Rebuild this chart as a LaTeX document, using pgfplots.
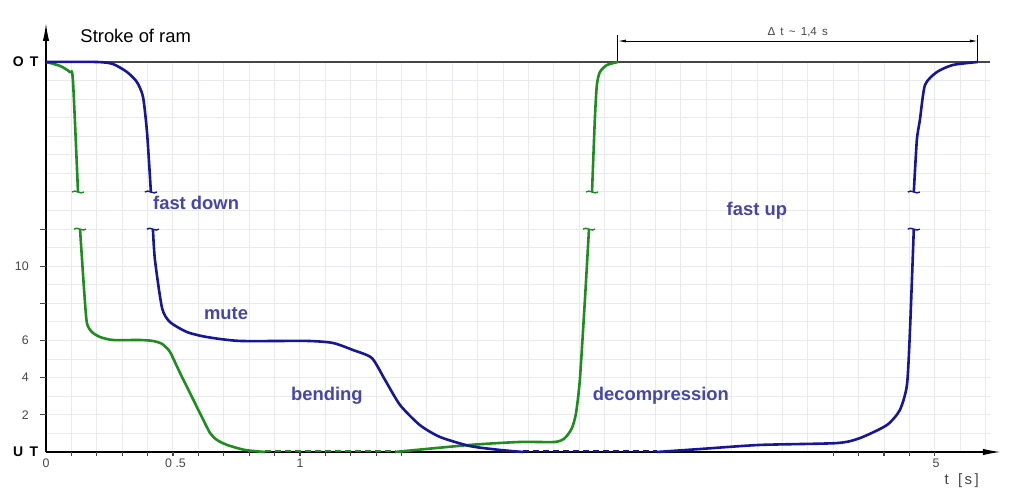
\documentclass[border=0pt]{standalone}
\usepackage{pgfplots}
\pgfplotsset{compat=1.18}
\usepackage{fontspec}
\setmainfont{Liberation Sans}
\usetikzlibrary{arrows.meta}
\definecolor{gr}{RGB}{30,140,30}
\definecolor{bl}{RGB}{22,22,150}
\definecolor{lbl}{RGB}{70,70,168}
\definecolor{gridc}{RGB}{233,233,240}
\definecolor{tk}{RGB}{70,70,70}
\newcommand{\brk}[3]{\draw[#1, line width=0.7pt] (axis cs:#2,#3) ++(-3pt,0pt) .. controls +(1.5pt,1.6pt) and +(-1.5pt,-1.6pt) .. ++(6pt,0pt);}
\newcommand{\lab}{\fontsize{9.2pt}{11pt}\selectfont\bfseries}
\newcommand{\tkf}{\fontsize{6.2pt}{7pt}\selectfont}
\begin{document}
\begin{tikzpicture}
\path[use as bounding box] (-23pt,-22.5pt) rectangle (489pt,226pt);
\begin{axis}[
  at={(0,0)}, anchor=south west,
  scale only axis, width=472pt, height=195pt,
  xmin=0, xmax=3.717, ymin=0, ymax=21,
  axis line style={draw=none},
  xtick={0,0.1,...,3.75}, ytick={0,1,...,21},
  xticklabels={}, yticklabels={},
  major tick length=0pt,
  grid=major, grid style={gridc, line width=0.5pt},
  clip=false,
]
% axes
\draw[tk, line width=0.8pt] (axis cs:0,21) -- (axis cs:3.717,21);
\draw[black, line width=0.7pt, -{Latex[length=9pt,width=3.2pt]}] (axis cs:0,0) -- (axis cs:3.76,0);
\draw[black, line width=0.7pt, -{Latex[length=9pt,width=3.2pt]}] (axis cs:0,0) -- (axis cs:0,23.1);
\pgfplotsinvokeforeach{0.1,0.2,0.3,0.4,0.5,0.6,0.7,0.8,0.9,1.0,1.1,1.2,1.3,1.4,3.1,3.2,3.3,3.4,3.5}{\draw[tk, line width=0.6pt] (axis cs:#1,0) -- ++(0,-2pt);}
\pgfplotsinvokeforeach{2,4,6,8,10,12}{\draw[tk, line width=0.6pt] (axis cs:0,#1) -- ++(-3pt,0);}
% tick labels
\node[tk, font=\tkf] at (axis cs:0,-0.6) {0};
\node[tk, font=\tkf] at (axis cs:0.51,-0.6) {0 .5};
\node[tk, font=\tkf] at (axis cs:1,-0.6) {1};
\node[tk, font=\tkf] at (axis cs:3.505,-0.6) {5};
\node[tk, font=\tkf, anchor=east] at (axis cs:-0.04,2) {2};
\node[tk, font=\tkf, anchor=east] at (axis cs:-0.04,4) {4};
\node[tk, font=\tkf, anchor=east] at (axis cs:-0.04,6) {6};
\node[tk, font=\tkf, anchor=east] at (axis cs:-0.04,10) {10};
\node[font=\fontsize{7pt}{8pt}\selectfont\bfseries] at (axis cs:-0.08,0) {U\, T};
\node[font=\fontsize{7pt}{8pt}\selectfont\bfseries] at (axis cs:-0.08,21) {O\, T};
\node[tk, font=\fontsize{7.5pt}{9pt}\selectfont] at (axis cs:3.606,-1.56) {t\,\, [\,s\,]};
\node[anchor=west, font=\fontsize{9.2pt}{11pt}\selectfont] at (axis cs:0.108,22.4) {Stroke of ram};
% delta t
\draw[black, line width=0.5pt] (axis cs:2.252,21) -- (axis cs:2.252,22.45);
\draw[black, line width=0.5pt] (axis cs:3.669,21) -- (axis cs:3.669,22.45);
\draw[black, line width=0.4pt, {Latex[length=4pt,width=1.5pt]}-{Latex[length=4pt,width=1.5pt]}] (axis cs:2.252,22.13) -- (axis cs:3.669,22.13);
\node[tk, font=\fontsize{5.8pt}{7pt}\selectfont] at (axis cs:2.96,22.62) {Δ\, t\, \textasciitilde\, 1,4\, s};
% green curve
\addplot[gr, line width=1.3pt, smooth, tension=0.4] coordinates {
(0,21) (0.055,20.79) (0.094,20.46) (0.106,20.03) (0.126,14.0)};
\addplot[gr, line width=1.3pt, smooth, tension=0.4] coordinates {
(0.134,12.0) (0.150,8.72) (0.161,6.95) (0.181,6.46) (0.213,6.19) (0.264,6.03) (0.370,6.03) (0.421,5.98) (0.457,5.82) (0.488,5.39) (0.528,4.25) (0.606,2.10) (0.646,1.02) (0.673,0.65) (0.713,0.38) (0.783,0.11) (0.862,0)};
\addplot[gr, line width=1.2pt, dash pattern=on 3pt off 2pt] coordinates {(0.862,0.05) (1.374,0.05)};
\addplot[gr, line width=1.3pt, smooth, tension=0.4] coordinates {
(1.374,0) (1.669,0.38) (1.866,0.54) (2.004,0.54) (2.043,0.75) (2.071,1.29) (2.087,2.1) (2.102,3.88) (2.122,8.19) (2.138,12.0)};
\addplot[gr, line width=1.3pt, smooth, tension=0.4] coordinates {
(2.150,14.0) (2.161,17.88) (2.169,19.76) (2.181,20.46) (2.209,20.84) (2.252,21)};
% blue curve
\addplot[bl, line width=1.3pt, smooth, tension=0.4] coordinates {
(0,21) (0.201,21) (0.264,20.89) (0.319,20.46) (0.358,19.92) (0.382,19.12) (0.398,17.18) (0.413,14.0)};
\addplot[bl, line width=1.3pt, smooth, tension=0.4] coordinates {
(0.421,12.0) (0.429,10.34) (0.457,7.75) (0.488,7.0) (0.555,6.46) (0.634,6.19) (0.764,5.98) (1.028,5.98) (1.130,5.87) (1.209,5.49) (1.283,5.06) (1.335,3.88) (1.394,2.53) (1.472,1.45) (1.551,0.81) (1.669,0.32) (1.787,0.11) (1.878,0)};
\addplot[bl, line width=1.2pt, dash pattern=on 3pt off 2pt] coordinates {(1.878,0.05) (2.406,0.05)};
\addplot[bl, line width=1.3pt, smooth, tension=0.4] coordinates {
(2.406,0) (2.575,0.16) (2.811,0.38) (3.114,0.48) (3.205,0.75) (3.311,1.45) (3.362,2.26) (3.390,3.61) (3.402,6.57) (3.417,12.0)};
\addplot[bl, line width=1.3pt, smooth, tension=0.4] coordinates {
(3.417,14.0) (3.429,16.8) (3.441,17.88) (3.461,19.76) (3.508,20.46) (3.571,20.84) (3.669,21)};
% break marks
\brk{gr}{0.126}{14}
\brk{gr}{0.134}{12}
\brk{gr}{2.150}{14}
\brk{gr}{2.138}{12}
\brk{bl}{0.413}{14}
\brk{bl}{0.421}{12}
\brk{bl}{3.417}{14}
\brk{bl}{3.417}{12}
% labels
\node[lbl, font=\lab] at (axis cs:0.591,13.41) {fast down};
\node[lbl, font=\lab] at (axis cs:0.709,7.43) {mute};
\node[lbl, font=\lab] at (axis cs:1.106,3.02) {bending};
\node[lbl, font=\lab] at (axis cs:2.421,3.02) {decompression};
\node[lbl, font=\lab] at (axis cs:2.799,12.98) {fast up};
\end{axis}
\end{tikzpicture}
\end{document}
